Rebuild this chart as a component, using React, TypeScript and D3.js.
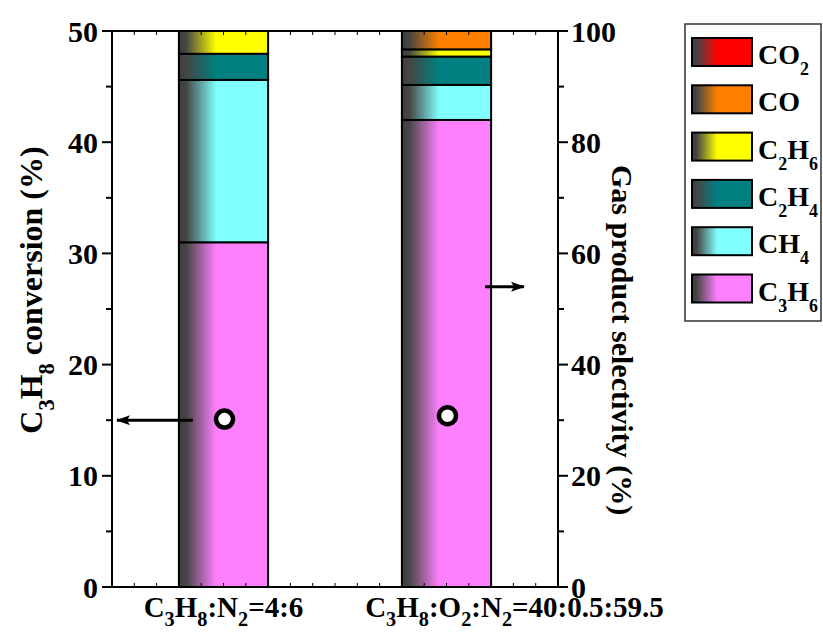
import { useRef, useEffect } from 'react';
import * as d3 from 'd3';

// categories (x) and stacked selectivity of each product (%), bottom to top
const categories = ['C_3H_8:N_2=4:6', 'C_3H_8:O_2:N_2=40:0.5:59.5'];
const products = ['C3H6', 'CH4', 'C2H4', 'C2H6', 'CO', 'CO2'];
const productLabels = ['C_3H_6', 'CH_4', 'C_2H_4', 'C_2H_6', 'CO', 'CO_2'];
const productColors = ['#FF80FF', '#80FFFF', '#008080', '#FFFF00', '#FF8000', '#FF0000'];
const c3h6Sel = [62.0, 84.0];
const ch4Sel = [29.2, 6.3];
const c2h4Sel = [4.7, 5.1];
const c2h6Sel = [4.1, 1.3];
const coSel = [0, 3.3];
const co2Sel = [0, 0];
// C3H8 conversion (%) on the left axis
const conversion = [15.1, 15.4];
const leftTicks = [0, 10, 20, 30, 40, 50];
const rightTicks = [0, 20, 40, 60, 80, 100];

const FONT = '"Liberation Serif", "Times New Roman", serif';

// turn "C_3H_8" into tspans with subscripts
function addRich(sel: any, str: string, size: number, subScale = 0.7, dropEm = 0.38) {
  const parts = str.split(/(_\S)/).filter((p) => p.length);
  const drop = size * dropEm;
  let shifted = false;
  parts.forEach((p) => {
    if (p.startsWith('_')) {
      sel.append('tspan').attr('font-size', size * subScale)
        .attr('dy', shifted ? 0 : drop).text(p[1]);
      shifted = true;
    } else {
      sel.append('tspan').attr('font-size', size)
        .attr('dy', shifted ? -drop : 0).text(p);
      shifted = false;
    }
  });
}

export default function App() {
  const svgRef = useRef<SVGSVGElement>(null);

  useEffect(() => {
    if (!svgRef.current) return;
    const svg = d3.select(svgRef.current);
    svg.selectAll('*').remove();

    const W = 823;
    const H = 635;
    const left = 112, right = 558, top = 31, bottom = 587;

    const x = d3.scaleLinear().domain([0.5, 2.5]).range([left, right]);
    const yL = d3.scaleLinear().domain([0, 50]).range([bottom, top]);
    const yR = d3.scaleLinear().domain([0, 100]).range([bottom, top]);
    const barW = x(0.9) - x(0.5);

    svg.append('rect').attr('width', W).attr('height', H).attr('fill', '#fff');

    // gradients for bar fill
    const defs = svg.append('defs');
    productColors.forEach((c, i) => {
      const g = defs.append('linearGradient').attr('id', `grad${i}`)
        .attr('x1', 0).attr('x2', 1).attr('y1', 0).attr('y2', 0);
      g.append('stop').attr('offset', 0).attr('stop-color', '#3d3d3d');
      g.append('stop').attr('offset', 0.08).attr('stop-color', '#454545');
      g.append('stop').attr('offset', 0.42).attr('stop-color', c);
      g.append('stop').attr('offset', 1).attr('stop-color', c);
    });
    defs.append('marker').attr('id', 'arrow')
      .attr('viewBox', '0 0 14 10').attr('refX', 13).attr('refY', 5)
      .attr('markerWidth', 14).attr('markerHeight', 10).attr('markerUnits', 'userSpaceOnUse')
      .attr('orient', 'auto')
      .append('path').attr('d', 'M0,0 L14,5 L0,10 L3,5 Z').attr('fill', '#000');

    // stacked bars
    const table = categories.map((_c, i) => ({
      idx: i,
      C3H6: c3h6Sel[i], CH4: ch4Sel[i], C2H4: c2h4Sel[i],
      C2H6: c2h6Sel[i], CO: coSel[i], CO2: co2Sel[i]
    }));
    const series = d3.stack<any>().keys(products)(table);
    series.forEach((s, k) => {
      svg.append('g').selectAll('rect')
        .data(s.filter((d) => d[1] - d[0] > 0))
        .enter().append('rect')
        .attr('x', (d) => x(d.data.idx + 1) - barW / 2)
        .attr('y', (d) => yR(d[1]))
        .attr('width', barW)
        .attr('height', (d) => yR(d[0]) - yR(d[1]))
        .attr('fill', `url(#grad${k})`)
        .attr('stroke', '#000')
        .attr('stroke-width', 2);
    });

    // axes frame
    const ax = svg.append('g').attr('stroke', '#000').attr('fill', 'none');
    ax.append('line').attr('x1', left).attr('x2', left).attr('y1', top).attr('y2', bottom).attr('stroke-width', 2);
    ax.append('line').attr('x1', right).attr('x2', right).attr('y1', top).attr('y2', bottom).attr('stroke-width', 2);
    ax.append('line').attr('x1', left - 1).attr('x2', right + 1).attr('y1', top).attr('y2', top).attr('stroke-width', 2);
    ax.append('line').attr('x1', left - 1).attr('x2', right + 1).attr('y1', bottom).attr('y2', bottom).attr('stroke-width', 2);

    // x minor ticks (inward, top and bottom)
    d3.range(0.6, 2.45, 0.1).forEach((v) => {
      ax.append('line').attr('x1', x(v)).attr('x2', x(v)).attr('y1', bottom).attr('y2', bottom - 4).attr('stroke-width', 1);
      ax.append('line').attr('x1', x(v)).attr('x2', x(v)).attr('y1', top).attr('y2', top + 4).attr('stroke-width', 1);
    });

    // left ticks
    d3.range(0, 51, 5).forEach((v) => {
      const major = v % 10 === 0;
      ax.append('line').attr('x1', left).attr('x2', left - (major ? 10 : 6))
        .attr('y1', yL(v)).attr('y2', yL(v)).attr('stroke-width', 2);
    });
    d3.range(0, 101, 10).forEach((v) => {
      const major = v % 20 === 0;
      ax.append('line').attr('x1', right).attr('x2', right + (major ? 10 : 6))
        .attr('y1', yR(v)).attr('y2', yR(v)).attr('stroke-width', 2);
    });

    const txt = svg.append('g').attr('font-family', FONT).attr('font-weight', 'bold').attr('fill', '#000');
    leftTicks.forEach((v) => {
      txt.append('text').attr('x', left - 14).attr('y', yL(v)).attr('dy', '0.35em')
        .attr('text-anchor', 'end').attr('font-size', 30).text(v);
    });
    rightTicks.forEach((v) => {
      txt.append('text').attr('x', right + 13).attr('y', yR(v)).attr('dy', '0.35em')
        .attr('text-anchor', 'start').attr('font-size', 30).text(v);
    });

    // x category labels
    const xOffsets = [0, 68];
    categories.forEach((c, i) => {
      const t = txt.append('text').attr('x', x(i + 1) + xOffsets[i]).attr('y', 617)
        .attr('text-anchor', 'middle');
      addRich(t, c, 29, 0.7, 0.3);
    });

    // axis titles
    const lt = txt.append('text').attr('transform', `translate(42,${290}) rotate(-90)`)
      .attr('text-anchor', 'middle');
    addRich(lt, 'C_3H_8 conversion (%)', 32);
    txt.append('text').attr('transform', `translate(612,${340}) rotate(90)`)
      .attr('text-anchor', 'middle').attr('font-size', 30).text('Gas product selectivity (%)');

    // conversion points
    svg.append('g').selectAll('circle').data(conversion).enter().append('circle')
      .attr('cx', (_d, i) => x(i + 1) + 1)
      .attr('cy', (d) => yL(d))
      .attr('r', 8.5).attr('fill', '#fff').attr('stroke', '#000').attr('stroke-width', 4.5);

    // arrows pointing to the axes
    svg.append('line').attr('x1', x(1) - barW / 2 + 14).attr('x2', left + 5)
      .attr('y1', yL(15)).attr('y2', yL(15))
      .attr('stroke', '#000').attr('stroke-width', 3).attr('marker-end', 'url(#arrow)');
    svg.append('line').attr('x1', x(2) + barW / 2 - 6).attr('x2', right - 34)
      .attr('y1', yR(54)).attr('y2', yR(54))
      .attr('stroke', '#000').attr('stroke-width', 3).attr('marker-end', 'url(#arrow)');

    // legend (top to bottom: CO2 ... C3H6)
    const lg = svg.append('g');
    lg.append('rect').attr('x', 685).attr('y', 24).attr('width', 136).attr('height', 297)
      .attr('fill', '#fff').attr('stroke', '#333').attr('stroke-width', 1.5);
    const order = d3.range(products.length).reverse();
    order.forEach((k, j) => {
      const yy = 38 + j * 47.3;
      lg.append('rect').attr('x', 692).attr('y', yy).attr('width', 60).attr('height', 28)
        .attr('fill', `url(#grad${k})`).attr('stroke', '#000').attr('stroke-width', 2);
      const t = lg.append('text').attr('x', 758).attr('y', yy + 26)
        .attr('font-family', FONT).attr('font-weight', 'bold');
      addRich(t, productLabels[k], 28, 0.64, 0.4);
    });
  }, []);

  return (
    <svg ref={svgRef} width={823} height={635}
      style={{ position: 'absolute', left: 0, top: 0, display: 'block' }} />
  );
}
